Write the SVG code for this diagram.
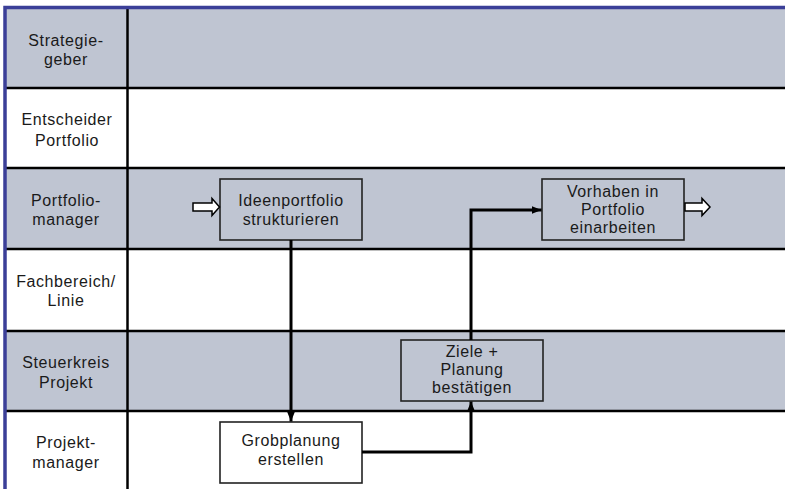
<svg xmlns="http://www.w3.org/2000/svg" width="785" height="489" viewBox="0 0 785 489">
  <style>
    .lane-shade { fill: #bfc5d2; }
    .lane-plain { fill: #ffffff; }
    .divider { stroke: #000; stroke-width: 2.5; fill: none; }
    .frame { stroke: #3b3f98; stroke-width: 3.5; fill: none; }
    .label { font-family: "Liberation Sans", Arial, sans-serif; font-size: 16px; letter-spacing: 0.6px; fill: #1a1a1a; text-anchor: middle; }
    .box { stroke: #222; stroke-width: 1.6; }
    .box-shade { fill: #bfc5d2; }
    .box-plain { fill: #ffffff; }
    .flow { stroke: #000; stroke-width: 3; fill: none; marker-end: url(#head); }
    .io { fill: #ffffff; stroke: #000; stroke-width: 1.5; stroke-linejoin: miter; }
  </style>
  <defs>
    <marker id="head" markerUnits="userSpaceOnUse" markerWidth="10" markerHeight="10" viewBox="0 0 10 10" refX="10" refY="5" orient="auto">
      <path d="M0,1 L10,5 L0,9 Z" fill="#000"/>
    </marker>
  </defs>

  <!-- swimlane backgrounds -->
  <g id="lanes">
    <rect class="lane-shade" x="5" y="8" width="780" height="80"/>
    <rect class="lane-plain" x="5" y="88" width="780" height="80"/>
    <rect class="lane-shade" x="5" y="168" width="780" height="81"/>
    <rect class="lane-plain" x="5" y="249" width="780" height="82"/>
    <rect class="lane-shade" x="5" y="331" width="780" height="80"/>
    <rect class="lane-plain" x="5" y="411" width="780" height="78"/>
    <line class="divider" x1="5" y1="88" x2="785" y2="88"/>
    <line class="divider" x1="5" y1="168" x2="785" y2="168"/>
    <line class="divider" x1="5" y1="249" x2="785" y2="249"/>
    <line class="divider" x1="5" y1="331" x2="785" y2="331"/>
    <line class="divider" x1="5" y1="411" x2="785" y2="411"/>
    <line class="divider" x1="127.5" y1="8" x2="127.5" y2="489"/>
    <path class="frame" d="M5,489 V7.5 H785"/>
  </g>

  <!-- lane headings -->
  <g id="lane-labels">
    <text class="label" x="66" y="46">Strategie-</text>
    <text class="label" x="66" y="65">geber</text>
    <text class="label" x="67" y="125">Entscheider</text>
    <text class="label" x="67" y="146">Portfolio</text>
    <text class="label" x="66" y="206">Portfolio-</text>
    <text class="label" x="66" y="225">manager</text>
    <text class="label" x="66" y="287">Fachbereich/</text>
    <text class="label" x="66" y="306">Linie</text>
    <text class="label" x="66" y="368">Steuerkreis</text>
    <text class="label" x="66" y="388">Projekt</text>
    <text class="label" x="66" y="448">Projekt-</text>
    <text class="label" x="66" y="468">manager</text>
  </g>

  <!-- process steps -->
  <g id="ideenportfolio">
    <rect class="box box-shade" x="220" y="179" width="142" height="61"/>
    <text class="label" x="291" y="206">Ideenportfolio</text>
    <text class="label" x="291" y="225">strukturieren</text>
  </g>
  <g id="vorhaben">
    <rect class="box box-shade" x="542" y="179" width="142" height="61"/>
    <text class="label" x="613" y="197">Vorhaben in</text>
    <text class="label" x="613" y="215">Portfolio</text>
    <text class="label" x="613" y="233">einarbeiten</text>
  </g>
  <g id="ziele">
    <rect class="box box-shade" x="401" y="340" width="142" height="61"/>
    <text class="label" x="472" y="357">Ziele +</text>
    <text class="label" x="472" y="375">Planung</text>
    <text class="label" x="472" y="393">bestätigen</text>
  </g>
  <g id="grobplanung">
    <rect class="box box-plain" x="220" y="422" width="142" height="61"/>
    <text class="label" x="291" y="446">Grobplanung</text>
    <text class="label" x="291" y="465">erstellen</text>
  </g>

  <!-- hollow input / output arrows -->
  <g id="input">
    <polygon class="io" points="193,203 212,203 212,198.5 219.5,207 212,215.5 212,211 193,211"/>
  </g>
  <g id="output">
    <polygon class="io" points="685,203 702,203 702,198.5 710,207 702,215.5 702,211 685,211"/>
  </g>

  <!-- connectors -->
  <g id="connectors">
    <path class="flow" d="M291,240 V421.5"/>
    <path class="flow" d="M362,452 H471 V401.5"/>
    <path class="flow" d="M471,340 V210 H541.5"/>
  </g>
</svg>
